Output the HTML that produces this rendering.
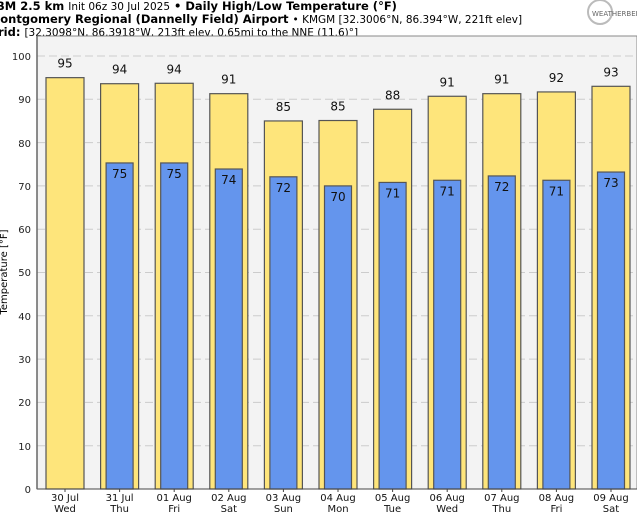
<!DOCTYPE html>
<html><head><meta charset="utf-8"><style>
body{margin:0;background:#fff;width:637px;height:515px;overflow:hidden}
svg text{font-family:"DejaVu Sans","Liberation Sans",sans-serif}
</style></head><body>
<svg width="637" height="515" xmlns="http://www.w3.org/2000/svg">
<text x="-4" y="10" font-size="11.5" font-weight="bold">BM 2.5 km <tspan font-weight="normal" font-size="10.5">Init 06z 30 Jul 2025</tspan> • Daily High/Low Temperature (°F)</text>
<text x="-4" y="23" font-size="11.5" font-weight="bold">Iontgomery Regional (Dannelly Field) Airport <tspan font-weight="normal" font-size="10.5">• KMGM [32.3006°N, 86.394°W, 221ft elev]</tspan></text>
<text x="-2" y="36" font-size="11.5" font-weight="bold">rid: <tspan font-weight="normal" font-size="10.5">[32.3098°N, 86.3918°W, 213ft elev, 0.65mi to the NNE (11.6)°]</tspan></text>
<circle cx="600" cy="12" r="12" fill="none" stroke="#bbb" stroke-width="2"/>
<text x="592" y="16" font-size="7" fill="#666">WEATHERBEL</text>
<rect x="37" y="36" width="600" height="453" fill="#f3f3f3" stroke="#888"/>
<g stroke="#ccc" stroke-dasharray="8,4" stroke-width="1">
<line x1="37" x2="637" y1="56" y2="56"/><line x1="37" x2="637" y1="99.3" y2="99.3"/><line x1="37" x2="637" y1="142.6" y2="142.6"/><line x1="37" x2="637" y1="185.9" y2="185.9"/><line x1="37" x2="637" y1="229.2" y2="229.2"/><line x1="37" x2="637" y1="272.5" y2="272.5"/><line x1="37" x2="637" y1="315.8" y2="315.8"/><line x1="37" x2="637" y1="359.1" y2="359.1"/><line x1="37" x2="637" y1="402.4" y2="402.4"/><line x1="37" x2="637" y1="445.7" y2="445.7"/>
</g>
<g font-size="10" text-anchor="end" fill="#222">
<text x="31" y="60">100</text><text x="31" y="103">90</text><text x="31" y="147">80</text><text x="31" y="190">70</text><text x="31" y="233">60</text><text x="31" y="276">50</text><text x="31" y="320">40</text><text x="31" y="363">30</text><text x="31" y="406">20</text><text x="31" y="450">10</text><text x="31" y="493">0</text>
</g>
<text transform="translate(7,272) rotate(-90)" font-size="10" text-anchor="middle">Temperature [°F]</text>
<g id="bars" stroke="#555" stroke-width="1.2"></g>
<line x1="37" x2="637" y1="489" y2="489" stroke="#444"/>
<line x1="37" x2="37" y1="36" y2="489" stroke="#666" stroke-width="1.5"/>
<g id="labels" font-size="12" text-anchor="middle" fill="#111"></g>
</svg>
<script>
var hi=[95,93.6,93.7,91.3,85,85.1,87.7,90.7,91.3,91.7,93];
var hl=[95,94,94,91,85,85,88,91,91,92,93];
var lo=[null,75.3,75.3,73.9,72.1,70,70.8,71.3,72.3,71.3,73.2];
var ll=[null,75,75,74,72,70,71,71,72,71,73];
var d1=["30 Jul","31 Jul","01 Aug","02 Aug","03 Aug","04 Aug","05 Aug","06 Aug","07 Aug","08 Aug","09 Aug"];
var d2=["Wed","Thu","Fri","Sat","Sun","Mon","Tue","Wed","Thu","Fri","Sat"];
var ns="http://www.w3.org/2000/svg",b=document.getElementById("bars"),l=document.getElementById("labels");
function y(v){return 489-v*4.33}
function el(p,t,a,tx){var e=document.createElementNS(ns,t);for(var k in a)e.setAttribute(k,a[k]);if(tx)e.textContent=tx;p.appendChild(e)}
for(var i=0;i<11;i++){var c=65+54.6*i;
el(b,"rect",{x:c-19,y:y(hi[i]),width:38,height:489-y(hi[i]),fill:"#fee57b"});
el(l,"text",{x:c,y:y(hi[i])-10},String(hl[i]));
if(lo[i]){el(b,"rect",{x:c-13.5,y:y(lo[i]),width:27,height:489-y(lo[i]),fill:"#6495ed"});
el(l,"text",{x:c,y:y(lo[i])+15},String(ll[i]));}
el(l,"text",{x:c,y:501,"font-size":"10"},d1[i]);
el(l,"text",{x:c,y:512,"font-size":"10"},d2[i]);
el(l,"line",{x1:c,x2:c,y1:489,y2:492,stroke:"#444"});}
</script>
</body></html>
